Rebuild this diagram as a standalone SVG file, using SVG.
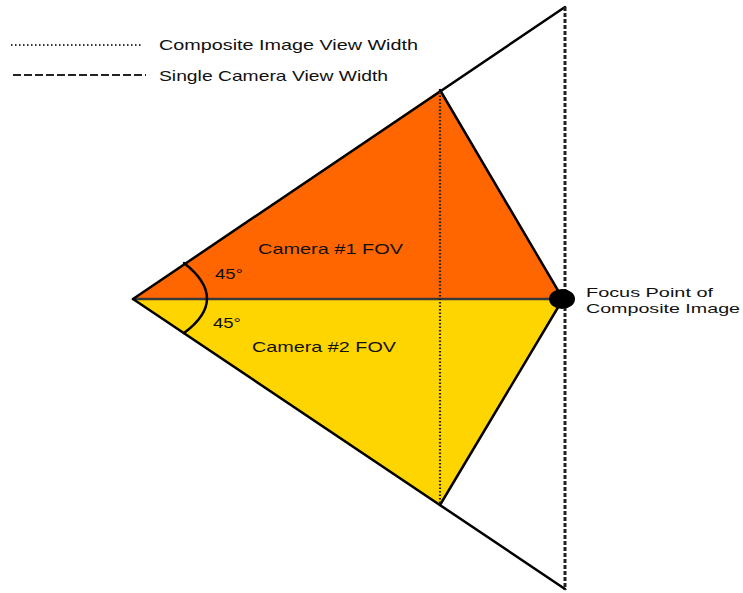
<svg xmlns="http://www.w3.org/2000/svg" width="743" height="593" viewBox="0 0 743 593">
<style>
text{font-family:"Liberation Sans",Arial,sans-serif;fill:#111;}
.lbl{font-size:15px;}
.edge{stroke:#000;stroke-width:2.5;fill:none;stroke-linecap:round;stroke-linejoin:round;}
.dotted{stroke:#222;stroke-width:2.2;stroke-dasharray:1.5 2;fill:none;}
.dashed{stroke:#222;stroke-width:3;stroke-dasharray:4 2;fill:none;}
</style>
<rect width="743" height="593" fill="#fff"/>
<g id="legend">
  <line x1="11" y1="45" x2="142" y2="45" stroke="#333" stroke-width="1.8" stroke-dasharray="1.5 2.5"/>
  <text class="lbl" x="159" y="50" textLength="259" lengthAdjust="spacingAndGlyphs">Composite Image View Width</text>
  <line x1="13" y1="75" x2="146" y2="75" stroke="#222" stroke-width="2.2" stroke-dasharray="8 3"/>
  <text class="lbl" x="159" y="81" textLength="229" lengthAdjust="spacingAndGlyphs">Single Camera View Width</text>
</g>
<g id="camera1">
  <polygon points="133,299 440,90 563,299" fill="#FF6600"/>
  <text class="lbl" x="258" y="254" textLength="145" lengthAdjust="spacingAndGlyphs">Camera #1 FOV</text>
</g>
<g id="camera2">
  <polygon points="133,299 563,299 440,505" fill="#FFD500"/>
  <text class="lbl" x="252" y="352" textLength="144" lengthAdjust="spacingAndGlyphs">Camera #2 FOV</text>
</g>
<g id="connectors">
  <line x1="133" y1="299" x2="563" y2="299" stroke="#3a3a3a" stroke-width="2.5"/>
  <line x1="133" y1="299" x2="565" y2="7" class="edge"/>
  <line x1="133" y1="299" x2="565" y2="589" class="edge"/>
  <line x1="440" y1="90" x2="563" y2="299" class="edge"/>
  <line x1="440" y1="505" x2="563" y2="299" class="edge"/>
  <line x1="440" y1="92" x2="440" y2="503" class="dotted"/>
  <line x1="565" y1="7" x2="565" y2="590" class="dashed"/>
  <path d="M184,263 Q230,299 184,333" class="edge" stroke-width="2"/>
</g>
<g id="angles">
  <text class="lbl" x="215" y="279" textLength="28" lengthAdjust="spacingAndGlyphs">45°</text>
  <text class="lbl" x="213" y="328" textLength="28" lengthAdjust="spacingAndGlyphs">45°</text>
</g>
<g id="focus">
  <ellipse cx="562" cy="299" rx="13" ry="10" fill="#000"/>
  <text x="586" y="297" font-size="13" textLength="127" lengthAdjust="spacingAndGlyphs">Focus Point of</text>
  <text x="586" y="313" font-size="13" textLength="154" lengthAdjust="spacingAndGlyphs">Composite Image</text>
</g>
</svg>
